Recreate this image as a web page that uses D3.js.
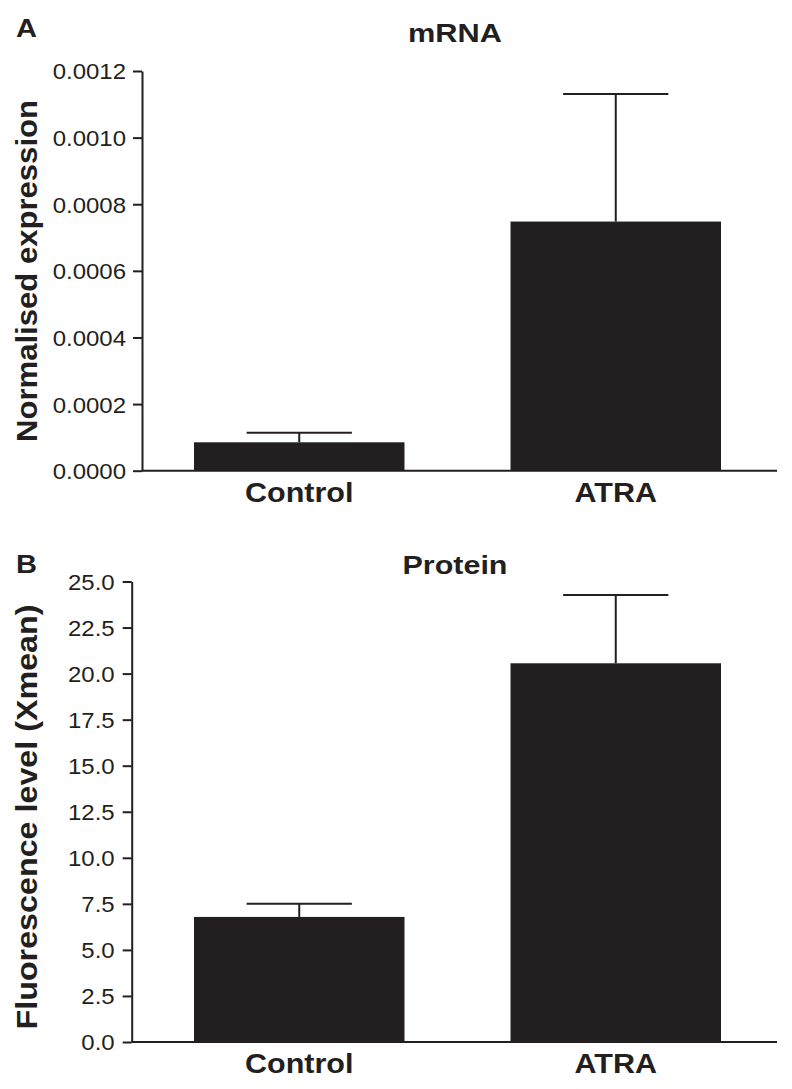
<!DOCTYPE html>
<html>
<head>
<meta charset="utf-8">
<script src="https://cdn.jsdelivr.net/npm/d3@7"></script>
<style>
  html, body { margin: 0; padding: 0; background: #fff; }
  svg { display: block; font-family: "Liberation Sans", Arial, Helvetica, sans-serif; }
</style>
</head>
<body>
<svg id="chart" width="792" height="1089"></svg>
<script>
// ---- data ----
const categories = ["Control", "ATRA"];
const mrnaMean = [0.0000853, 0.000748];
const mrnaErr = [0.0000288, 0.000383];
const mrnaTicks = [0, 0.0002, 0.0004, 0.0006, 0.0008, 0.0010, 0.0012];
const proteinMean = [6.79, 20.56];
const proteinErr = [0.72, 3.71];
const proteinTicks = [0, 2.5, 5, 7.5, 10, 12.5, 15, 17.5, 20, 22.5, 25];

const INK = "#231f20";
const svg = d3.select("#chart");

function stretch(sel, factor) {
  sel.each(function () {
    const w = this.getComputedTextLength();
    d3.select(this).attr("textLength", w * factor).attr("lengthAdjust", "spacingAndGlyphs");
  });
}

const x = d3.scaleBand()
  .domain(categories)
  .range([142, 773])
  .paddingInner(0.335)
  .paddingOuter(0.1643);

function drawPanel(opt) {
  const g = svg.append("g");
  const y = d3.scaleLinear().domain(opt.domain).range([opt.y0, opt.y1]);
  const data = categories.map((c, i) => ({ c, m: opt.mean[i], e: opt.err[i] }));

  // bars
  g.selectAll("rect.bar").data(data).join("rect")
    .attr("class", "bar")
    .attr("x", d => x(d.c))
    .attr("width", x.bandwidth())
    .attr("y", d => y(d.m))
    .attr("height", d => y(0) - y(d.m))
    .attr("fill", INK);

  // error bars
  g.selectAll("line.err").data(data).join("line")
    .attr("class", "err")
    .attr("x1", d => x(d.c) + x.bandwidth() / 2)
    .attr("x2", d => x(d.c) + x.bandwidth() / 2)
    .attr("y1", d => y(d.m))
    .attr("y2", d => y(d.m + d.e))
    .attr("stroke", INK).attr("stroke-width", 2);
  g.selectAll("line.cap").data(data).join("line")
    .attr("class", "cap")
    .attr("x1", d => x(d.c) + x.bandwidth() / 4)
    .attr("x2", d => x(d.c) + x.bandwidth() * 3 / 4)
    .attr("y1", d => y(d.m + d.e))
    .attr("y2", d => y(d.m + d.e))
    .attr("stroke", INK).attr("stroke-width", 2);

  // y axis
  const ya = g.append("g")
    .attr("transform", `translate(${opt.axisX},0)`)
    .call(d3.axisLeft(y).tickValues(opt.ticks).tickFormat(opt.fmt).tickSize(9).tickSizeOuter(0));
  ya.select(".domain").attr("stroke", INK).attr("stroke-width", 2);
  ya.selectAll(".tick line").attr("stroke", INK).attr("stroke-width", 2);
  ya.selectAll(".tick text")
    .attr("x", -opt.labelGap)
    .attr("dy", "0.36em")
    .attr("fill", INK)
    .style("font-size", "22px")
    .style("font-family", '"Liberation Sans", Arial, sans-serif');
  stretch(ya.selectAll(".tick text"), 1.09);

  // baseline
  g.append("line")
    .attr("x1", opt.axisX).attr("x2", 777)
    .attr("y1", y(0)).attr("y2", y(0))
    .attr("stroke", INK).attr("stroke-width", 2);

  // x axis labels
  const xa = g.append("g")
    .attr("transform", `translate(0,${y(0)})`)
    .call(d3.axisBottom(x).tickSize(0));
  xa.select(".domain").remove();
  xa.selectAll(".tick text")
    .attr("y", 0).attr("dy", 31)
    .attr("fill", INK)
    .style("font-size", "27px")
    .style("font-weight", "bold")
    .style("font-family", '"Liberation Sans", Arial, sans-serif');
  stretch(xa.selectAll(".tick text"), 1.13);

  // title
  g.append("text")
    .attr("x", 455).attr("y", opt.titleY)
    .attr("text-anchor", "middle")
    .attr("fill", INK)
    .style("font-size", "26px").style("font-weight", "bold")
    .attr("textLength", opt.titleW).attr("lengthAdjust", "spacingAndGlyphs")
    .text(opt.title);

  // panel letter
  g.append("text")
    .attr("x", 16).attr("y", opt.letterY)
    .attr("fill", INK)
    .style("font-size", "25px").style("font-weight", "bold")
    .attr("textLength", 21).attr("lengthAdjust", "spacingAndGlyphs")
    .text(opt.letter);

  // y label
  g.append("text")
    .attr("transform", `translate(37,${opt.ylabelC}) rotate(-90)`)
    .attr("text-anchor", "middle")
    .attr("fill", INK)
    .style("font-size", "30px").style("font-weight", "bold")
    .attr("textLength", opt.ylabelW).attr("lengthAdjust", "spacingAndGlyphs")
    .text(opt.ylabel);
}

drawPanel({
  mean: mrnaMean, err: mrnaErr, ticks: mrnaTicks,
  domain: [0, 0.0012], y0: 470.7, y1: 71,
  fmt: d3.format(".4f"), axisX: 142, labelGap: 16,
  title: "mRNA", titleY: 42, titleW: 94,
  letter: "A", letterY: 37,
  ylabel: "Normalised expression", ylabelC: 271, ylabelW: 342
});

drawPanel({
  mean: proteinMean, err: proteinErr, ticks: proteinTicks,
  domain: [0, 25], y0: 1042, y1: 581.5,
  fmt: d3.format(".1f"), axisX: 131.7, labelGap: 17,
  title: "Protein", titleY: 574, titleW: 105,
  letter: "B", letterY: 573,
  ylabel: "Fluorescence level (Xmean)", ylabelC: 817, ylabelW: 425
});
</script>
</body>
</html>
